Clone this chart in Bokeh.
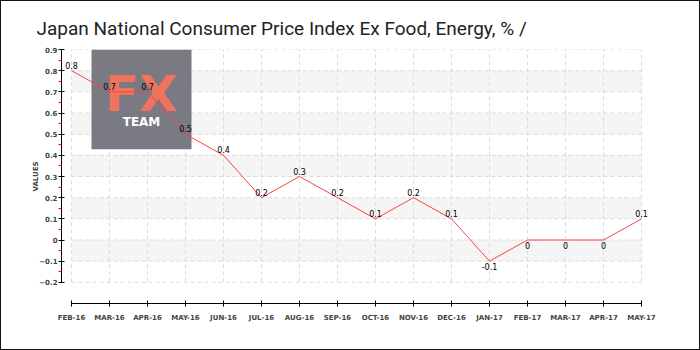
from bokeh.plotting import figure
from bokeh.models import (ColumnDataSource, Range1d, FixedTicker, LabelSet,
                          BoxAnnotation, Label)
from bokeh.core.properties import value
from bokeh.embed import file_html
from bokeh.resources import INLINE

# ---- data ----
months = ["FEB-16", "MAR-16", "APR-16", "MAY-16", "JUN-16", "JUL-16", "AUG-16",
          "SEP-16", "OCT-16", "NOV-16", "DEC-16", "JAN-17", "FEB-17", "MAR-17",
          "APR-17", "MAY-17"]
values = [0.8, 0.7, 0.7, 0.5, 0.4, 0.2, 0.3, 0.2, 0.1, 0.2, 0.1, -0.1, 0, 0, 0, 0.1]
y_ticks = [-0.2, -0.1, 0.0, 0.1, 0.2, 0.3, 0.4, 0.5, 0.6, 0.7, 0.8, 0.9]
band_lows = [-0.1, 0.1, 0.3, 0.5, 0.7]
band_highs = [0.0, 0.2, 0.4, 0.6, 0.8]
title_text = "Japan National Consumer Price Index Ex Food, Energy, %  /"

xs = list(range(len(months)))
labels = ["0" if v == 0 else f"{v:g}" for v in values]

src = ColumnDataSource(dict(x=xs, y=values, lab=labels))
up = ColumnDataSource(dict(x=[x for x, v in zip(xs, values) if v > 0],
                           y=[v for v in values if v > 0],
                           lab=[l for l, v in zip(labels, values) if v > 0]))
dn = ColumnDataSource(dict(x=[x for x, v in zip(xs, values) if v <= 0],
                           y=[v for v in values if v <= 0],
                           lab=[l for l, v in zip(labels, values) if v <= 0]))

px_per_month = 38.0
px_per_unit = 210.0
x_start = -10.0 / px_per_month
x_end = xs[-1] + 20.0 / px_per_month
y_step = 0.1

p = figure(width=700, height=350, output_backend="svg", toolbar_location=None,
           x_range=Range1d(x_start, x_end),
           y_range=Range1d(min(y_ticks) - y_step, max(y_ticks)),
           min_border_left=60, min_border_right=40, min_border_top=48,
           min_border_bottom=48, background_fill_color="white",
           border_fill_color="white", outline_line_color=None)
p.styles = {"border": "1px solid #111", "box-sizing": "border-box"}

p.title.text = title_text
p.title.text_font = "Roboto"
p.title.text_font_size = "19px"
p.title.text_font_style = "normal"
p.title.text_color = "#222222"
p.title.offset = -25
p.title.standoff = 20

p.xgrid.visible = False
p.ygrid.visible = False

# bands
p.quad(left=0, right=xs[-1], bottom=band_lows, top=band_highs,
       fill_color="#f5f5f5", line_color=None, level="image")
# grid lines from tick arrays
p.segment(x0=[0] * len(y_ticks), x1=[xs[-1]] * len(y_ticks), y0=y_ticks, y1=y_ticks,
          line_color="#dcdcdc", line_dash="4 3", line_width=1, level="image")
p.segment(x0=xs, x1=xs, y0=[min(y_ticks)] * len(xs), y1=[max(y_ticks)] * len(xs),
          line_color="#dcdcdc", line_dash="4 3", line_width=1, level="image")

# watermark
top = max(y_ticks)
wm = BoxAnnotation(left=20 / px_per_month, right=120 / px_per_month,
                   top=top, bottom=top - 99 / px_per_unit,
                   fill_color="#7a7a82", fill_alpha=1.0, line_color=None,
                   level="underlay")
p.add_layout(wm)
p.add_layout(Label(x=70 / px_per_month, y=top - 44 / px_per_unit, text="FX",
                   text_font="DejaVu Sans", text_font_size="50px",
                   text_font_style="bold", text_color="#f0735f",
                   text_align="center", text_baseline="alphabetic",
                   level="underlay"))
p.add_layout(Label(x=70 / px_per_month, y=top - 72 / px_per_unit, text="TEAM",
                   text_font="DejaVu Sans", text_font_size="12px",
                   text_font_style="bold", text_color="white",
                   text_align="center", text_baseline="alphabetic",
                   level="underlay"))

# line
p.line("x", "y", source=src, line_color="#ff4040", line_width=1)

p.add_layout(LabelSet(x="x", y="y", text="lab", source=up,
                      text_font=value("DejaVu Sans"),
                      text_font_size=value("8px"), text_color="black",
                      text_align="center", text_baseline="bottom", y_offset=2))
p.add_layout(LabelSet(x="x", y="y", text="lab", source=dn,
                      text_font=value("DejaVu Sans"),
                      text_font_size=value("8px"), text_color="black",
                      text_align="center", text_baseline="top", y_offset=-2))

# axes
xa = p.xaxis[0]
xa.ticker = FixedTicker(ticks=xs)
xa.major_label_overrides = {i: m for i, m in enumerate(months)}
xa.bounds = (0, xs[-1])
xa.major_tick_in = 3
xa.major_tick_out = 3
xa.minor_tick_line_color = None
xa.major_label_text_font = "DejaVu Sans"
xa.major_label_text_font_size = "7px"
xa.major_label_text_font_style = "bold"
xa.major_label_standoff = 7
xa.axis_line_color = "black"
xa.major_tick_line_color = "black"

ya = p.yaxis[0]
minor = [round(t + y_step / 2, 2) for t in y_ticks[:-1]]
ya.ticker = FixedTicker(ticks=y_ticks, minor_ticks=minor)
ya.major_label_overrides = {0: "0"}
ya.bounds = (min(y_ticks), max(y_ticks))
ya.major_tick_in = 3
ya.major_tick_out = 3
ya.minor_tick_in = 0
ya.minor_tick_out = 3
ya.minor_tick_line_color = "red"
ya.major_label_text_font = "DejaVu Sans"
ya.major_label_text_font_size = "7px"
ya.major_label_text_font_style = "bold"
ya.major_label_standoff = 1
ya.axis_label = "VALUES"
ya.axis_label_text_font = "DejaVu Sans"
ya.axis_label_text_font_size = "7px"
ya.axis_label_text_font_style = "bold"
ya.axis_label_standoff = -4
ya.axis_line_color = "black"
ya.major_tick_line_color = "black"

open("out.html", "w").write(file_html(p, INLINE))
